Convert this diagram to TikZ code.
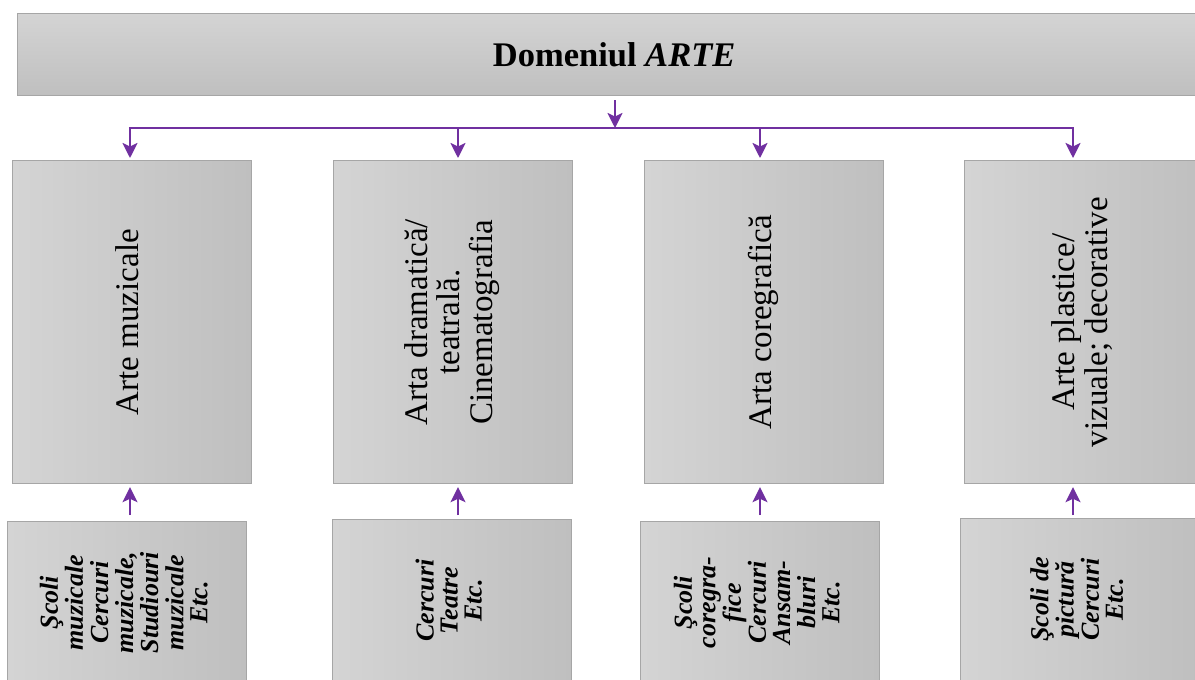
\documentclass[tikz,border=0pt]{standalone}
\usepackage{fontspec}
\setmainfont{Liberation Serif}
\usetikzlibrary{arrows.meta}
\definecolor{arrowpurple}{HTML}{7030A0}
\definecolor{boxborder}{HTML}{A6A6A6}
\definecolor{gradlight}{HTML}{D4D4D4}
\definecolor{graddark}{HTML}{BFBFBF}
\newcommand{\vtext}[1]{\rotatebox{90}{\begin{tabular}{@{}c@{}}#1\end{tabular}}}
\begin{document}
\begin{tikzpicture}[x=1pt,y=-1pt,
  boxbase/.style={draw=boxborder, line width=1.2pt, inner sep=0pt, anchor=north west, minimum width=239pt},
  hbox/.style={boxbase, left color=gradlight, right color=graddark},
  topbox/.style={draw=boxborder, line width=1.2pt, inner sep=0pt, anchor=north west,
     top color=gradlight, bottom color=graddark, minimum width=1193pt, minimum height=82pt,
     font=\fontsize{34.5}{38}\selectfont\bfseries},
  midbox/.style={hbox, minimum height=323pt, font=\fontsize{33}{30.5}\selectfont},
  lowbox/.style={hbox, minimum height=162pt, font=\fontsize{26}{23.5}\selectfont\bfseries\itshape},
  arr/.style={draw=arrowpurple, line width=2.4pt, -{Stealth[length=15pt,width=15pt,inset=3.5pt]}},
  bus/.style={draw=arrowpurple, line width=2.4pt}
]
\useasboundingbox (0,0) rectangle (1195,680);
\fill[white] (0,0) rectangle (1195,680);

\node[topbox] (top) at (17,13) {Domeniul \textit{ARTE}};

\node[midbox] (m1) at (12,160) {\vtext{Arte muzicale}};
\node[midbox] (m2) at (333,160) {\vtext{Arta dramatică/\\ teatrală.\\ Cinematografia}};
\node[midbox] (m3) at (644,160) {\vtext{Arta coregrafică}};
\node[midbox] (m4) at (964,160) {\vtext{Arte plastice/\\ vizuale; decorative}};

\node[lowbox] (l1) at (7,521) {\vtext{Şcoli\\ muzicale\\ Cercuri\\ muzicale,\\ Studiouri\\ muzicale\\ Etc.}};
\node[lowbox] (l2) at (332,519) {\vtext{Cercuri\\ Teatre\\ Etc.}};
\node[lowbox] (l3) at (640,521) {\vtext{Şcoli\\ coregra-\\ fice\\ Cercuri\\ Ansam-\\ bluri\\ Etc.}};
\node[lowbox] (l4) at (960,518) {\vtext{Şcoli de\\ pictură\\ Cercuri\\ Etc.}};

% bus
\coordinate (bt) at (615,128);
\coordinate (b1) at (130,128);
\coordinate (b2) at (458,128);
\coordinate (b3) at (760,128);
\coordinate (b4) at (1073,128);
\draw[arr, shorten <=4pt] (top.south -| bt) -- (bt);
\draw[bus] ([xshift=-1.2pt]b1) -- ([xshift=1.2pt]b4);
\draw[arr] (b1) -- ([yshift=2pt]b1 |- m1.north);
\draw[arr] (b2) -- ([yshift=2pt]b2 |- m2.north);
\draw[arr] (b3) -- ([yshift=2pt]b3 |- m3.north);
\draw[arr] (b4) -- ([yshift=2pt]b4 |- m4.north);

% upward arrows
\draw[arr, shorten <=6pt, shorten >=3pt] (b1 |- l1.north) -- (b1 |- m1.south);
\draw[arr, shorten <=4pt, shorten >=3pt] (b2 |- l2.north) -- (b2 |- m2.south);
\draw[arr, shorten <=6pt, shorten >=3pt] (b3 |- l3.north) -- (b3 |- m3.south);
\draw[arr, shorten <=3pt, shorten >=3pt] (b4 |- l4.north) -- (b4 |- m4.south);
\end{tikzpicture}
\end{document}
